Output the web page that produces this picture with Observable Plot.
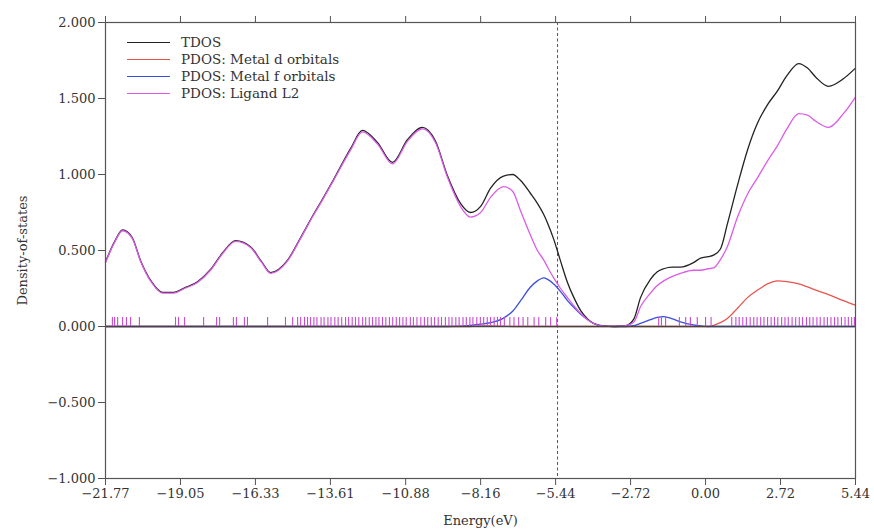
<!DOCTYPE html>
<html><head><meta charset="utf-8">
<script src="https://cdn.jsdelivr.net/npm/d3@7"></script>
<script src="https://cdn.jsdelivr.net/npm/@observablehq/plot@0.6"></script>
<style>
body{margin:0;background:#fff;}
#wrap{position:relative;width:874px;height:531px;}
.legend{position:absolute;left:127px;top:34px;font-family:"DejaVu Serif";font-size:13.5px;color:#333;line-height:17px;}
.legend div{display:flex;align-items:center;height:17px;}
.legend .sw{display:inline-block;width:43px;height:0;border-top:1.3px solid;margin-right:11px;}
</style></head><body><div id="wrap"></div>
<script>
const energy = [-21.77,-21.45,-21.15,-20.8,-20.5,-20.1,-19.7,-19.3,-18.9,-18.43,
  -17.96,-17.52,-17.05,-16.51,-16.1,-15.78,-15.17,-14.69,-14.2,-13.97,
  -13.5,-12.88,-12.45,-11.9,-11.36,-10.81,-10.27,-9.80,-9.36,-8.89,
  -8.53,-8.16,-7.80,-7.33,-7.0,-6.71,-6.35,-6.10,-5.88,-5.73,
  -5.51,-5.26,-5.01,-4.75,-4.53,-4.28,-4.06,-3.7,-3.3,-2.90,
  -2.6,-2.36,-2.0,-1.75,-1.52,-1.2,-0.91,-0.44,-0.18,0.1,
  0.29,0.54,0.80,1.16,1.52,1.89,2.25,2.61,2.95,3.38,
  3.70,4.00,4.46,5.00,5.44];
const tdos = [0.425,0.555,0.635,0.585,0.435,0.295,0.225,0.225,0.255,0.295,
  0.375,0.485,0.565,0.525,0.425,0.355,0.435,0.585,0.745,0.815,
  0.965,1.17,1.29,1.21,1.08,1.23,1.31,1.22,0.99,0.81,
  0.75,0.79,0.91,0.99,1.00,0.96,0.875,0.81,0.74,0.68,
  0.575,0.43,0.29,0.18,0.105,0.05,0.02,0.003,0.0,0.005,
  0.05,0.19,0.31,0.36,0.38,0.39,0.39,0.42,0.45,0.46,
  0.47,0.51,0.68,0.93,1.16,1.34,1.46,1.55,1.65,1.73,
  1.70,1.64,1.58,1.63,1.70];
const metalD = [0,0,0,0,0,0,0,0,0,0,
  0,0,0,0,0,0,0,0,0,0,
  0,0,0,0,0,0,0,0,0,0,
  0,0.004,0.004,0.002,0,0,0,0,0,0,
  0,0,0,0,0,0,0,0,0,0,
  0,0,0,0,0,0,0,0,0,0,
  0.008,0.025,0.055,0.12,0.19,0.24,0.28,0.30,0.295,0.28,
  0.26,0.24,0.21,0.17,0.14];
const metalF = [0,0,0,0,0,0,0,0,0,0,
  0,0,0,0,0,0,0,0,0,0,
  0,0,0,0,0,0,0,0,0,0.003,
  0.008,0.015,0.025,0.055,0.10,0.17,0.26,0.30,0.32,0.31,
  0.28,0.23,0.17,0.12,0.08,0.045,0.02,0.004,0,0,
  0.005,0.02,0.045,0.06,0.065,0.05,0.03,0.01,0.004,0,
  0,0,0,0,0,0,0,0,0,0,
  0,0,0,0,0];
const ligandL2 = [0.42,0.55,0.63,0.58,0.43,0.29,0.22,0.22,0.25,0.29,
  0.37,0.48,0.56,0.52,0.42,0.35,0.43,0.58,0.74,0.81,
  0.96,1.16,1.28,1.20,1.07,1.22,1.30,1.21,0.98,0.79,
  0.72,0.75,0.85,0.92,0.89,0.76,0.60,0.50,0.44,0.39,
  0.32,0.25,0.19,0.13,0.085,0.045,0.02,0.003,0.0,0.005,
  0.03,0.13,0.22,0.27,0.30,0.33,0.35,0.37,0.37,0.38,
  0.385,0.44,0.53,0.72,0.87,0.98,1.09,1.19,1.30,1.40,
  1.39,1.35,1.31,1.40,1.51];
const levels = [-21.52,-21.44,-21.33,-21.15,-21.01,-20.86,-20.54,-19.23,-19.12,-18.90,
  -18.21,-17.74,-17.63,-17.13,-17.02,-16.73,-16.62,-15.89,-15.24,-14.98,-14.80,-14.69,-14.55,
  -14.44,-14.33,-14.21,-14.10,-13.95,-13.84,-13.70,-13.59,-13.45,-13.33,-13.20,-13.06,-12.95,
  -12.82,-12.70,-12.58,-12.44,-12.33,-12.20,-12.08,-11.96,-11.85,-11.72,-11.60,-11.47,-11.35,
  -11.22,-11.10,-10.98,-10.86,-10.71,-10.60,-10.47,-10.33,-10.20,-10.08,-9.95,-9.83,-9.70,
  -9.58,-9.44,-9.31,-9.20,-9.06,-8.94,-8.80,-8.68,-8.55,-8.44,-8.30,-8.17,-8.05,-7.92,-7.80,
  -7.67,-7.55,-7.44,-7.30,-7.10,-6.95,-6.78,-6.62,-6.45,-6.22,-6.05,-5.80,-5.62,-5.40,
  -1.70,-1.60,-1.45,-0.95,-0.72,-0.55,-0.30,0.00,0.20,
  0.95,1.10,1.22,1.35,1.48,1.62,1.75,1.87,2.00,2.12,2.25,2.38,2.50,2.62,2.76,2.88,3.00,
  3.14,3.27,3.40,3.52,3.66,3.78,3.90,4.04,4.16,4.30,4.42,4.55,4.68,4.80,4.93,5.06,5.18,5.30,5.40];
const fermi = -5.37;
const xTicks = [-21.77,-19.05,-16.33,-13.61,-10.88,-8.16,-5.44,-2.72,0.00,2.72,5.44];
const xTickLabels = ["−21.77","−19.05","−16.33","−13.61","−10.88","−8.16","−5.44","−2.72","0.00","2.72","5.44"];
const yTicks = [-1,-0.5,0,0.5,1,1.5,2];
const yTickLabels = ["−1.000","−0.500","0.000","0.500","1.000","1.500","2.000"];
const seriesNames = ["TDOS","PDOS: Metal d orbitals","PDOS: Metal f orbitals","PDOS: Ligand L2"];
const seriesColors = ["#222222","#e8544e","#3a4ee0","#dc5ce6"];
const seriesValues = [tdos, metalD, metalF, ligandL2];

const rows = [];
seriesNames.forEach((s, k) => energy.forEach((e, i) => rows.push({E: e, v: seriesValues[k][i], s})));
const drawOrder = ["PDOS: Metal d orbitals","PDOS: Metal f orbitals","TDOS","PDOS: Ligand L2"];

const font = {fontFamily: "DejaVu Serif", fontSize: "13px", color: "#333", background: "#fff"};
const chart = Plot.plot({
  width: 874, height: 531,
  marginLeft: 105, marginRight: 19, marginTop: 22, marginBottom: 53,
  style: font,
  x: {domain: [-21.77, 5.44]},
  y: {domain: [-1, 2]},
  color: {domain: seriesNames, range: seriesColors},
  marks: [
    Plot.ruleX([fermi], {stroke: "#555", strokeDasharray: "3,2.5", strokeWidth: 1}),
    ...drawOrder.map(name => Plot.line(rows.filter(r => r.s === name), {
      x: "E", y: "v", stroke: "s", curve: "monotone-x", strokeWidth: 1.3
    })),
    Plot.ruleY([0], {stroke: "#444", strokeWidth: 1.3}),
    Plot.ruleX(levels, {y1: 0, y2: 0.06, stroke: "#c64bd0", strokeWidth: 1.1}),
    Plot.frame({stroke: "#555", strokeWidth: 1.2}),
    Plot.axisX({anchor: "top", ticks: xTicks, tickFormat: () => "", tickSize: 7, label: null, stroke: "#555"}),
    Plot.axisX({anchor: "bottom", ticks: xTicks, tickFormat: (d, i) => xTickLabels[i], tickSize: 7, tickPadding: 3,
      label: "Energy(eV)", labelAnchor: "center", labelOffset: 46, labelArrow: "none", stroke: "#555", fill: "#333"}),
    Plot.axisY({anchor: "left", ticks: yTicks, tickFormat: (d, i) => yTickLabels[i], tickSize: 7, tickPadding: 3,
      label: "Density-of-states", labelAnchor: "center", labelOffset: 88, labelArrow: "none", stroke: "#555", fill: "#333"})
  ]
});
const wrap = document.getElementById("wrap");
wrap.appendChild(chart);
const legend = document.createElement("div");
legend.className = "legend";
seriesNames.forEach((n, k) => {
  const row = document.createElement("div");
  const sw = document.createElement("span");
  sw.className = "sw";
  sw.style.borderTopColor = seriesColors[k];
  row.appendChild(sw);
  row.appendChild(document.createTextNode(n));
  legend.appendChild(row);
});
wrap.appendChild(legend);
</script>
</body></html>
